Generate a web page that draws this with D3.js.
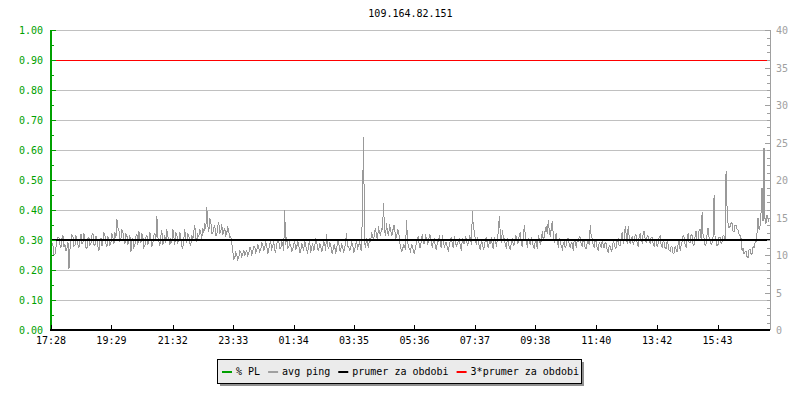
<!DOCTYPE html>
<html><head><meta charset="utf-8">
<script src="https://cdn.jsdelivr.net/npm/d3@7"></script>
<style>
body{margin:0;background:#fff;}
text{font-family:"DejaVu Sans Mono",monospace;font-size:10px;}
</style></head>
<body><svg id="c" width="800" height="400"></svg>
<script>
const title = "109.164.82.151";
const startTime = "2000-01-01 17:28";
const stepMinutes = 2;
const xTickLabels = ["17:28","19:29","21:32","23:33","01:34","03:35","05:36","07:37","09:38","11:40","13:42","15:43"];
const leftTicks = [0,0.1,0.2,0.3,0.4,0.5,0.6,0.7,0.8,0.9,1.0];
const rightTicks = [0,5,10,15,20,25,30,35,40];
const prumer = 12;       // average ping (ms)
const pctPL = [];        // packet loss: none
const legendItems = [
  {label:"% PL", color:"#00a000"},
  {label:"avg ping", color:"#a0a0a0"},
  {label:"prumer za obdobi", color:"#000000"},
  {label:"3*prumer za obdobi", color:"#ff0000"}
];
// avg ping in ms, every 2 minutes from 17:28
const avgPing = [
10.4,11.6,11.2,10.0,10.1,11.0,11.8,12.4,12.3,11.3,
11.0,12.2,12.6,11.1,11.4,10.5,10.9,11.7,8.2,10.8,
11.8,12.7,12.5,11.2,11.3,12.6,12.2,11.4,11.0,12.0,
12.8,11.5,11.6,12.9,12.1,11.0,10.8,12.2,12.4,11.3,
11.5,12.6,12.9,11.4,11.2,12.5,12.0,11.1,10.6,11.9,
12.3,11.2,11.7,13.0,12.6,11.5,11.1,12.4,12.2,11.3,
11.6,12.9,12.4,11.5,13.0,12.3,14.8,13.6,13.4,11.8,
12.2,13.3,13.1,12.0,11.5,12.8,12.6,11.4,11.9,12.7,
10.4,11.8,12.2,11.0,11.3,12.5,12.8,11.4,13.2,12.1,
11.6,12.9,12.4,11.0,11.2,12.3,12.7,11.5,11.8,13.0,
12.3,11.2,11.5,12.6,12.9,11.9,15.2,12.4,11.8,11.2,
12.5,13.3,11.3,12.0,12.6,11.6,13.4,12.5,12.0,11.4,
12.2,11.6,13.5,12.4,11.4,12.9,12.8,11.7,11.9,13.0,
12.4,11.2,10.9,12.1,13.4,12.0,11.6,12.8,12.7,11.5,
11.3,12.6,12.1,13.1,14.0,12.3,11.8,12.7,12.5,13.4,
12.9,12.2,13.6,13.0,14.2,13.5,16.4,14.0,13.1,14.8,
14.6,12.9,12.8,13.7,13.9,12.6,12.6,13.8,14.4,12.9,
13.0,14.1,12.7,13.3,13.5,12.6,12.9,13.8,13.2,12.4,
12.5,11.6,10.6,9.5,9.6,10.3,10.0,9.4,9.7,10.5,
10.4,9.8,10.1,10.7,9.9,10.3,10.6,9.9,10.2,11.0,
10.9,10.1,10.4,11.1,11.2,10.3,10.5,11.4,11.0,10.4,
10.7,11.6,11.5,10.5,10.9,11.8,11.3,10.2,10.6,11.5,
11.8,10.8,11.1,11.9,10.7,10.4,11.4,12.0,12.0,10.9,
10.8,11.7,11.6,10.5,16.0,11.3,12.4,10.9,11.0,11.6,
11.3,10.5,10.6,11.4,11.8,10.8,10.9,11.9,11.5,10.3,
10.4,11.6,11.2,10.6,12.0,11.3,10.7,10.2,11.4,11.9,
10.3,11.0,11.6,10.5,11.0,12.1,11.9,10.8,10.6,11.5,
11.3,10.4,10.9,11.8,11.7,10.6,12.8,11.2,10.8,11.6,
11.5,10.4,10.2,11.3,11.4,10.1,10.7,11.9,11.8,10.6,
10.5,11.4,11.2,10.3,10.9,11.7,12.9,11.2,11.1,10.6,
10.8,11.7,11.5,10.4,10.6,11.3,11.9,10.9,11.2,11.8,
10.9,10.5,17.9,25.7,11.6,11.0,12.2,11.5,11.0,12.3,
11.8,12.9,12.6,11.9,13.0,13.6,12.4,12.1,13.8,12.9,
12.7,13.5,13.4,16.9,13.2,12.6,14.2,13.0,12.5,13.9,
13.6,12.6,12.8,14.0,14.0,12.2,12.3,13.4,13.3,12.0,
11.0,10.5,10.6,11.4,11.3,10.7,14.7,11.9,11.1,10.8,
10.5,11.4,11.2,10.3,10.2,11.1,11.6,12.3,12.4,11.0,
11.0,12.1,12.8,11.6,11.5,12.6,12.3,11.4,11.8,12.7,
12.6,11.3,11.1,12.0,12.2,10.9,10.8,11.7,11.9,12.6,
11.4,10.9,12.7,11.8,11.0,11.6,11.7,10.8,10.6,11.5,
12.0,12.4,11.3,10.9,12.5,11.8,11.1,11.6,11.8,12.2,
10.9,10.7,12.3,11.6,11.5,12.4,12.1,11.2,11.6,12.5,
12.2,11.4,15.9,13.5,13.2,11.8,11.4,12.3,12.0,10.9,
10.8,11.9,11.7,10.7,11.2,12.1,12.3,11.5,10.9,11.8,
11.6,12.4,11.1,10.8,12.4,11.7,11.3,12.0,13.3,15.2,
12.6,11.6,13.3,12.4,12.1,11.3,11.0,12.2,11.6,10.9,
10.8,11.7,12.2,11.3,11.4,12.6,12.5,11.5,11.7,12.8,
12.9,11.4,11.2,12.3,14.0,12.6,11.5,11.2,12.3,11.8,
11.4,12.3,12.1,11.0,10.9,11.9,11.8,10.8,12.6,12.2,
11.3,12.0,13.2,11.9,12.5,13.4,13.8,12.8,14.7,13.1,
12.4,13.6,14.5,12.7,11.6,12.4,12.9,11.5,11.2,12.2,
12.0,11.1,10.8,11.6,11.7,10.9,11.3,12.1,12.2,11.4,
10.9,11.7,11.5,10.6,12.1,11.8,11.0,11.9,11.8,12.5,
12.4,11.3,11.2,12.0,11.9,10.8,10.9,11.7,12.0,11.3,
14.0,12.5,12.2,11.3,11.1,12.0,11.8,10.8,10.7,11.6,
11.4,10.9,12.0,11.3,10.9,11.7,11.5,10.6,10.4,11.3,
11.2,10.5,10.8,11.8,11.6,10.9,11.0,12.0,12.1,11.2,
11.3,12.2,13.1,11.6,11.9,13.8,12.7,11.5,13.8,12.4,
11.5,12.3,12.4,11.4,11.8,12.7,12.6,11.5,11.2,12.4,
12.9,11.9,11.7,12.8,13.2,12.1,11.6,12.6,12.5,11.8,
11.6,12.4,12.3,11.5,11.2,12.1,12.0,11.1,11.5,12.4,
12.5,11.3,11.0,11.9,11.7,10.9,10.9,11.8,11.4,10.6,
10.5,11.2,11.0,10.2,10.3,11.1,10.8,10.4,11.4,12.0,
10.6,11.3,11.8,12.6,12.4,11.3,11.1,12.2,12.9,11.6,
11.7,12.8,12.6,11.3,11.4,12.5,13.2,12.0,12.0,13.3,
13.4,12.2,15.7,12.6,12.2,11.3,11.5,12.8,13.6,12.3,
12.1,11.4,11.6,12.5,18.0,12.3,12.0,11.2,11.4,12.4,
12.3,11.5,11.8,12.6,12.5,11.9,21.2,16.4,14.2,13.6,
13.8,14.3,14.2,13.2,13.1,14.0,14.0,13.4,13.3,12.8,
12.6,12.2,10.6,10.9,10.1,10.4,10.5,9.8,9.6,10.7,
10.8,10.1,10.2,11.1,11.0,11.6,11.8,12.9,14.9,13.4,
13.8,15.6,18.9,14.5,24.3,14.8,14.2,15.3,14.8,14.4
];

const svg = d3.select("#c");
const parse = d3.timeParse("%Y-%m-%d %H:%M");
const t0 = parse(startTime);
const t1 = d3.timeMinute.offset(t0, 24*60);
const L = 51, R = 770, T = 30, B = 330;

const x = d3.scaleTime().domain([t0, t1]).range([L, R]);
const yL = d3.scaleLinear().domain([0, 1]).range([B, T]);
const yR = d3.scaleLinear().domain([0, 40]).range([B, T]);

const tickTimes = xTickLabels.map(s => {
  const [h, m] = s.split(":").map(Number);
  let d = new Date(t0); d.setHours(h, m, 0, 0);
  if (d < t0) d = d3.timeDay.offset(d, 1);
  return d;
});

// grid
svg.append("g").selectAll("line").data(leftTicks.filter(v => v > 0)).join("line")
  .attr("x1", L).attr("x2", R).attr("y1", d => Math.round(yL(d)) + 0.5).attr("y2", d => Math.round(yL(d)) + 0.5)
  .attr("stroke", "#c0c0c0").attr("stroke-width", 1);

// red 3*prumer line
svg.append("line").attr("x1", L).attr("x2", R - 2)
  .attr("y1", Math.round(yR(3 * prumer)) + 0.5).attr("y2", Math.round(yR(3 * prumer)) + 0.5)
  .attr("stroke", "#ff0000").attr("stroke-width", 1);

// avg ping line
const data = avgPing.map((v, i) => ({t: d3.timeMinute.offset(t0, i * stepMinutes), v}));
svg.append("path").datum(data)
  .attr("d", d3.line().x(d => x(d.t)).y(d => yR(d.v)))
  .attr("fill", "none").attr("stroke", "#999999").attr("stroke-width", 1)
  .attr("shape-rendering", "crispEdges");

// prumer line
svg.append("line").attr("x1", L).attr("x2", R)
  .attr("y1", yR(prumer)).attr("y2", yR(prumer))
  .attr("stroke", "#000").attr("stroke-width", 2);

// left axis (green)
const gL = svg.append("g");
gL.append("line").attr("x1", L).attr("x2", L).attr("y1", T).attr("y2", B + 1).attr("stroke", "#00a000").attr("stroke-width", 2);
const minorL = d3.range(0, 1.0001, 0.05);
gL.selectAll("line.t").data(minorL).join("line").attr("class", "t")
  .attr("x1", L).attr("x2", (d, i) => L + (i % 2 === 0 ? 5 : 3))
  .attr("y1", d => Math.round(yL(d)) + 0.5).attr("y2", d => Math.round(yL(d)) + 0.5)
  .attr("stroke", "#00a000");
gL.selectAll("text").data(leftTicks).join("text")
  .attr("x", 43).attr("y", d => yL(d) + 4).attr("text-anchor", "end")
  .attr("fill", "#00a000").text(d => d3.format(".2f")(d));

// right axis (gray)
const gR = svg.append("g");
gR.append("line").attr("x1", R + 0.5).attr("x2", R + 0.5).attr("y1", T).attr("y2", B).attr("stroke", "#a0a0a0");
gR.selectAll("line.t").data(d3.range(0, 41, 1)).join("line").attr("class", "t")
  .attr("x1", d => R - (d % 5 === 0 ? 5 : 3)).attr("x2", R)
  .attr("y1", d => Math.round(yR(d)) + 0.5).attr("y2", d => Math.round(yR(d)) + 0.5)
  .attr("stroke", "#a0a0a0");
gR.selectAll("text").data(rightTicks).join("text")
  .attr("x", R + 6).attr("y", d => yR(d) + 4)
  .attr("fill", "#a0a0a0").text(d => d);

// bottom axis
const gB = svg.append("g");
gB.append("line").attr("x1", L - 1).attr("x2", R).attr("y1", B).attr("y2", B).attr("stroke", "#000").attr("stroke-width", 2);
gB.selectAll("line.t").data(tickTimes).join("line").attr("class", "t")
  .attr("x1", d => Math.round(x(d)) + 0.5).attr("x2", d => Math.round(x(d)) + 0.5)
  .attr("y1", B - 5).attr("y2", B).attr("stroke", "#000");
gB.selectAll("text").data(tickTimes).join("text")
  .attr("x", d => x(d)).attr("y", B + 14).attr("text-anchor", "middle")
  .attr("fill", "#000").text((d, i) => xTickLabels[i]);

// title
svg.append("text").attr("x", (L + R) / 2).attr("y", 17).attr("text-anchor", "middle")
  .attr("fill", "#000").text(title);

// legend
const lg = svg.append("g");
const lx = 217, ly = 359, lw = 364, lh = 24;
lg.append("rect").attr("x", lx + 3).attr("y", ly + 3).attr("width", lw).attr("height", lh).attr("fill", "#909090");
lg.append("rect").attr("x", lx + 0.5).attr("y", ly + 0.5).attr("width", lw).attr("height", lh).attr("fill", "#ebebeb").attr("stroke", "#000");
let cx = lx + 5;
legendItems.forEach(it => {
  lg.append("line").attr("x1", cx).attr("x2", cx + 10).attr("y1", ly + 13).attr("y2", ly + 13)
    .attr("stroke", it.color).attr("stroke-width", 2);
  const t = lg.append("text").attr("x", cx + 14).attr("y", ly + 16).attr("fill", "#000").text(it.label);
  cx += 14 + t.node().getComputedTextLength() + 8;
});
</script></body></html>
